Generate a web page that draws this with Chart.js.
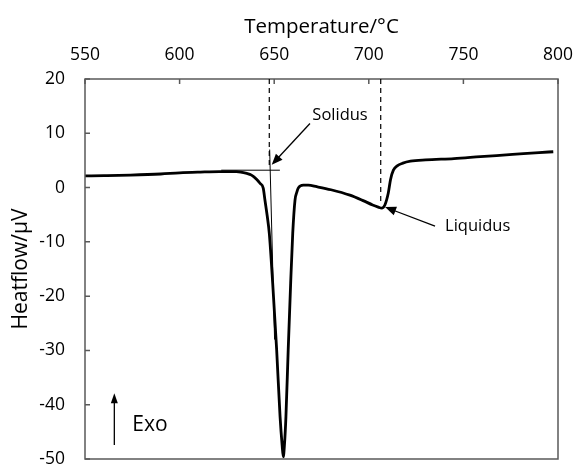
<!DOCTYPE html>
<html>
<head>
<meta charset="utf-8">
<script src="https://cdn.jsdelivr.net/npm/chart.js@4.4.1/dist/chart.umd.min.js"></script>
<style>
  html, body { margin: 0; padding: 0; background: #fff; }
  #wrap { width: 577px; height: 469px; }
</style>
</head>
<body>
<div id="wrap"><canvas id="dsc-chart"></canvas></div>
<script>
// DSC heating trace
const temperature = [550, 560, 574, 590, 600, 611, 621, 630, 635.5, 638, 640.8, 642.5, 644.2, 645.1, 646.3, 647.4,
    649.2, 651.3, 653.1, 654.2, 654.8, 655.4, 656.2, 657.4, 658.7, 659.8, 661, 662, 662.7, 665.4, 668, 672.5,
    680, 690, 697, 702, 705, 706.8, 708.5, 710.3, 711.5, 713, 715, 718, 722, 730, 745, 759, 776, 790, 797.5];
const heatflow = [2.15, 2.2, 2.3, 2.5, 2.72, 2.85, 2.93, 2.93, 2.6, 2.3, 1.5, 0.8, -0.1, -2.3, -5.2, -8.4,
    -17.6, -29.9, -42.2, -47.5, -49.6, -47.5, -42.2, -29.9, -17.6, -8.4, -2.3, -0.8, -0.1, 0.45, 0.45, 0.16,
    -0.4, -1.4, -2.4, -3.2, -3.6, -3.8, -3.2, -1.0, 1.5, 3.2, 4.0, 4.5, 4.85, 5.1, 5.35, 5.7, 6.1, 6.45, 6.6];

const tempTicks = [550, 600, 650, 700, 750, 800];
const flowTicks = [-50, -40, -30, -20, -10, 0, 10, 20];

// onset construction and labels, in data units
const solidusT = 647.6;
const liquidusT = 706.3;
const baselineH = 3.2;

const FONT = '"Open Sans", "DejaVu Sans", sans-serif';

function arrow(ctx, x1, y1, x2, y2, head, width) {
    const a = Math.atan2(y2 - y1, x2 - x1);
    ctx.beginPath();
    ctx.moveTo(x1, y1);
    ctx.lineTo(x2 - Math.cos(a) * head * 0.8, y2 - Math.sin(a) * head * 0.8);
    ctx.stroke();
    ctx.beginPath();
    ctx.moveTo(x2, y2);
    ctx.lineTo(x2 - Math.cos(a) * head + Math.sin(a) * width, y2 - Math.sin(a) * head - Math.cos(a) * width);
    ctx.lineTo(x2 - Math.cos(a) * head - Math.sin(a) * width, y2 - Math.sin(a) * head + Math.cos(a) * width);
    ctx.closePath();
    ctx.fill();
}

// keep the plot box fixed: no extra room for the end tick labels
function noEdgePadding(s) {
    s.paddingLeft = 0;
    s.paddingRight = 0;
    s.paddingTop = 0;
    s.paddingBottom = 0;
}

const framePlugin = {
    id: 'frame',
    afterDatasetsDraw(chart) {
        const {ctx, chartArea: a, scales: {x, y}} = chart;
        ctx.save();
        ctx.strokeStyle = '#595959';
        ctx.lineWidth = 1.5;
        ctx.strokeRect(a.left, a.top, a.right - a.left, a.bottom - a.top);
        // inward tick marks
        ctx.beginPath();
        tempTicks.forEach(v => {
            const px = x.getPixelForValue(v);
            ctx.moveTo(px, a.top);
            ctx.lineTo(px, a.top + 5);
        });
        flowTicks.forEach(v => {
            const py = y.getPixelForValue(v);
            ctx.moveTo(a.left, py);
            ctx.lineTo(a.left + 5, py);
        });
        ctx.stroke();

        ctx.strokeStyle = '#000';
        ctx.fillStyle = '#000';
        // dashed markers at solidus / liquidus
        ctx.lineWidth = 1.2;
        ctx.setLineDash([5, 4]);
        ctx.beginPath();
        ctx.moveTo(x.getPixelForValue(solidusT - 0.2), a.top);
        ctx.lineTo(x.getPixelForValue(solidusT - 0.2), y.getPixelForValue(3.5));
        ctx.moveTo(x.getPixelForValue(liquidusT), a.top);
        ctx.lineTo(x.getPixelForValue(liquidusT), y.getPixelForValue(-2.8));
        ctx.stroke();
        ctx.setLineDash([]);

        // baseline and tangent for the onset
        ctx.lineWidth = 1;
        ctx.beginPath();
        ctx.moveTo(x.getPixelForValue(622), y.getPixelForValue(baselineH));
        ctx.lineTo(x.getPixelForValue(653), y.getPixelForValue(baselineH));
        ctx.moveTo(x.getPixelForValue(solidusT), y.getPixelForValue(7));
        ctx.lineTo(x.getPixelForValue(650.2), y.getPixelForValue(-28));
        ctx.stroke();

        // pointer arrows
        ctx.lineWidth = 1.3;
        arrow(ctx, x.getPixelForValue(668.9), y.getPixelForValue(11.8),
            x.getPixelForValue(648.7), y.getPixelForValue(4.2), 11, 4.5);
        arrow(ctx, x.getPixelForValue(735), y.getPixelForValue(-7.1),
            x.getPixelForValue(708.6), y.getPixelForValue(-3.6), 11, 4.5);
        arrow(ctx, x.getPixelForValue(565.5), y.getPixelForValue(-47.4),
            x.getPixelForValue(565.5), y.getPixelForValue(-37.9), 10, 3.5);

        ctx.font = '16.5px ' + FONT;
        ctx.textBaseline = 'middle';
        ctx.textAlign = 'center';
        ctx.fillText('Solidus', x.getPixelForValue(684.8), y.getPixelForValue(13.4));
        ctx.textAlign = 'left';
        ctx.fillText('Liquidus', x.getPixelForValue(740.3), y.getPixelForValue(-7.1));
        ctx.font = '21px ' + FONT;
        ctx.fillText('Exo', x.getPixelForValue(575), y.getPixelForValue(-43.8));
        ctx.restore();
    }
};

new Chart(document.getElementById('dsc-chart'), {
    type: 'line',
    data: {
        datasets: [{
            data: temperature.map((t, i) => ({x: t, y: heatflow[i]})),
            borderColor: '#000',
            borderWidth: 2.8,
            pointRadius: 0,
            tension: 0.4,
            cubicInterpolationMode: 'monotone'
        }]
    },
    options: {
        responsive: true,
        maintainAspectRatio: false,
        animation: false,
        layout: {padding: {left: 0, top: 0, right: 19, bottom: 10}},
        plugins: {legend: {display: false}, tooltip: {enabled: false}},
        scales: {
            x: {
                type: 'linear',
                position: 'top',
                min: 550,
                max: 800,
                afterBuildTicks: s => { s.ticks = tempTicks.map(v => ({value: v})); },
                afterFit: s => { s.height = 79; noEdgePadding(s); },
                grid: {display: false, drawTicks: false},
                border: {display: false},
                ticks: {color: '#000', padding: 13, font: {family: FONT, size: 17.5}},
                title: {display: true, text: 'Temperature/°C', color: '#000',
                    padding: {top: 15, bottom: 0}, font: {family: FONT, size: 20.5}}
            },
            y: {
                type: 'linear',
                min: -50,
                max: 20,
                afterBuildTicks: s => { s.ticks = flowTicks.map(v => ({value: v})); },
                afterFit: s => { s.width = 85; noEdgePadding(s); },
                grid: {display: false, drawTicks: false},
                border: {display: false},
                ticks: {color: '#000', padding: 20, font: {family: FONT, size: 17.5}},
                title: {display: true, text: 'Heatflow/μV', color: '#000',
                    padding: {top: 8, bottom: 0}, font: {family: FONT, size: 21}}
            }
        }
    },
    plugins: [framePlugin]
});
</script>
</body>
</html>
